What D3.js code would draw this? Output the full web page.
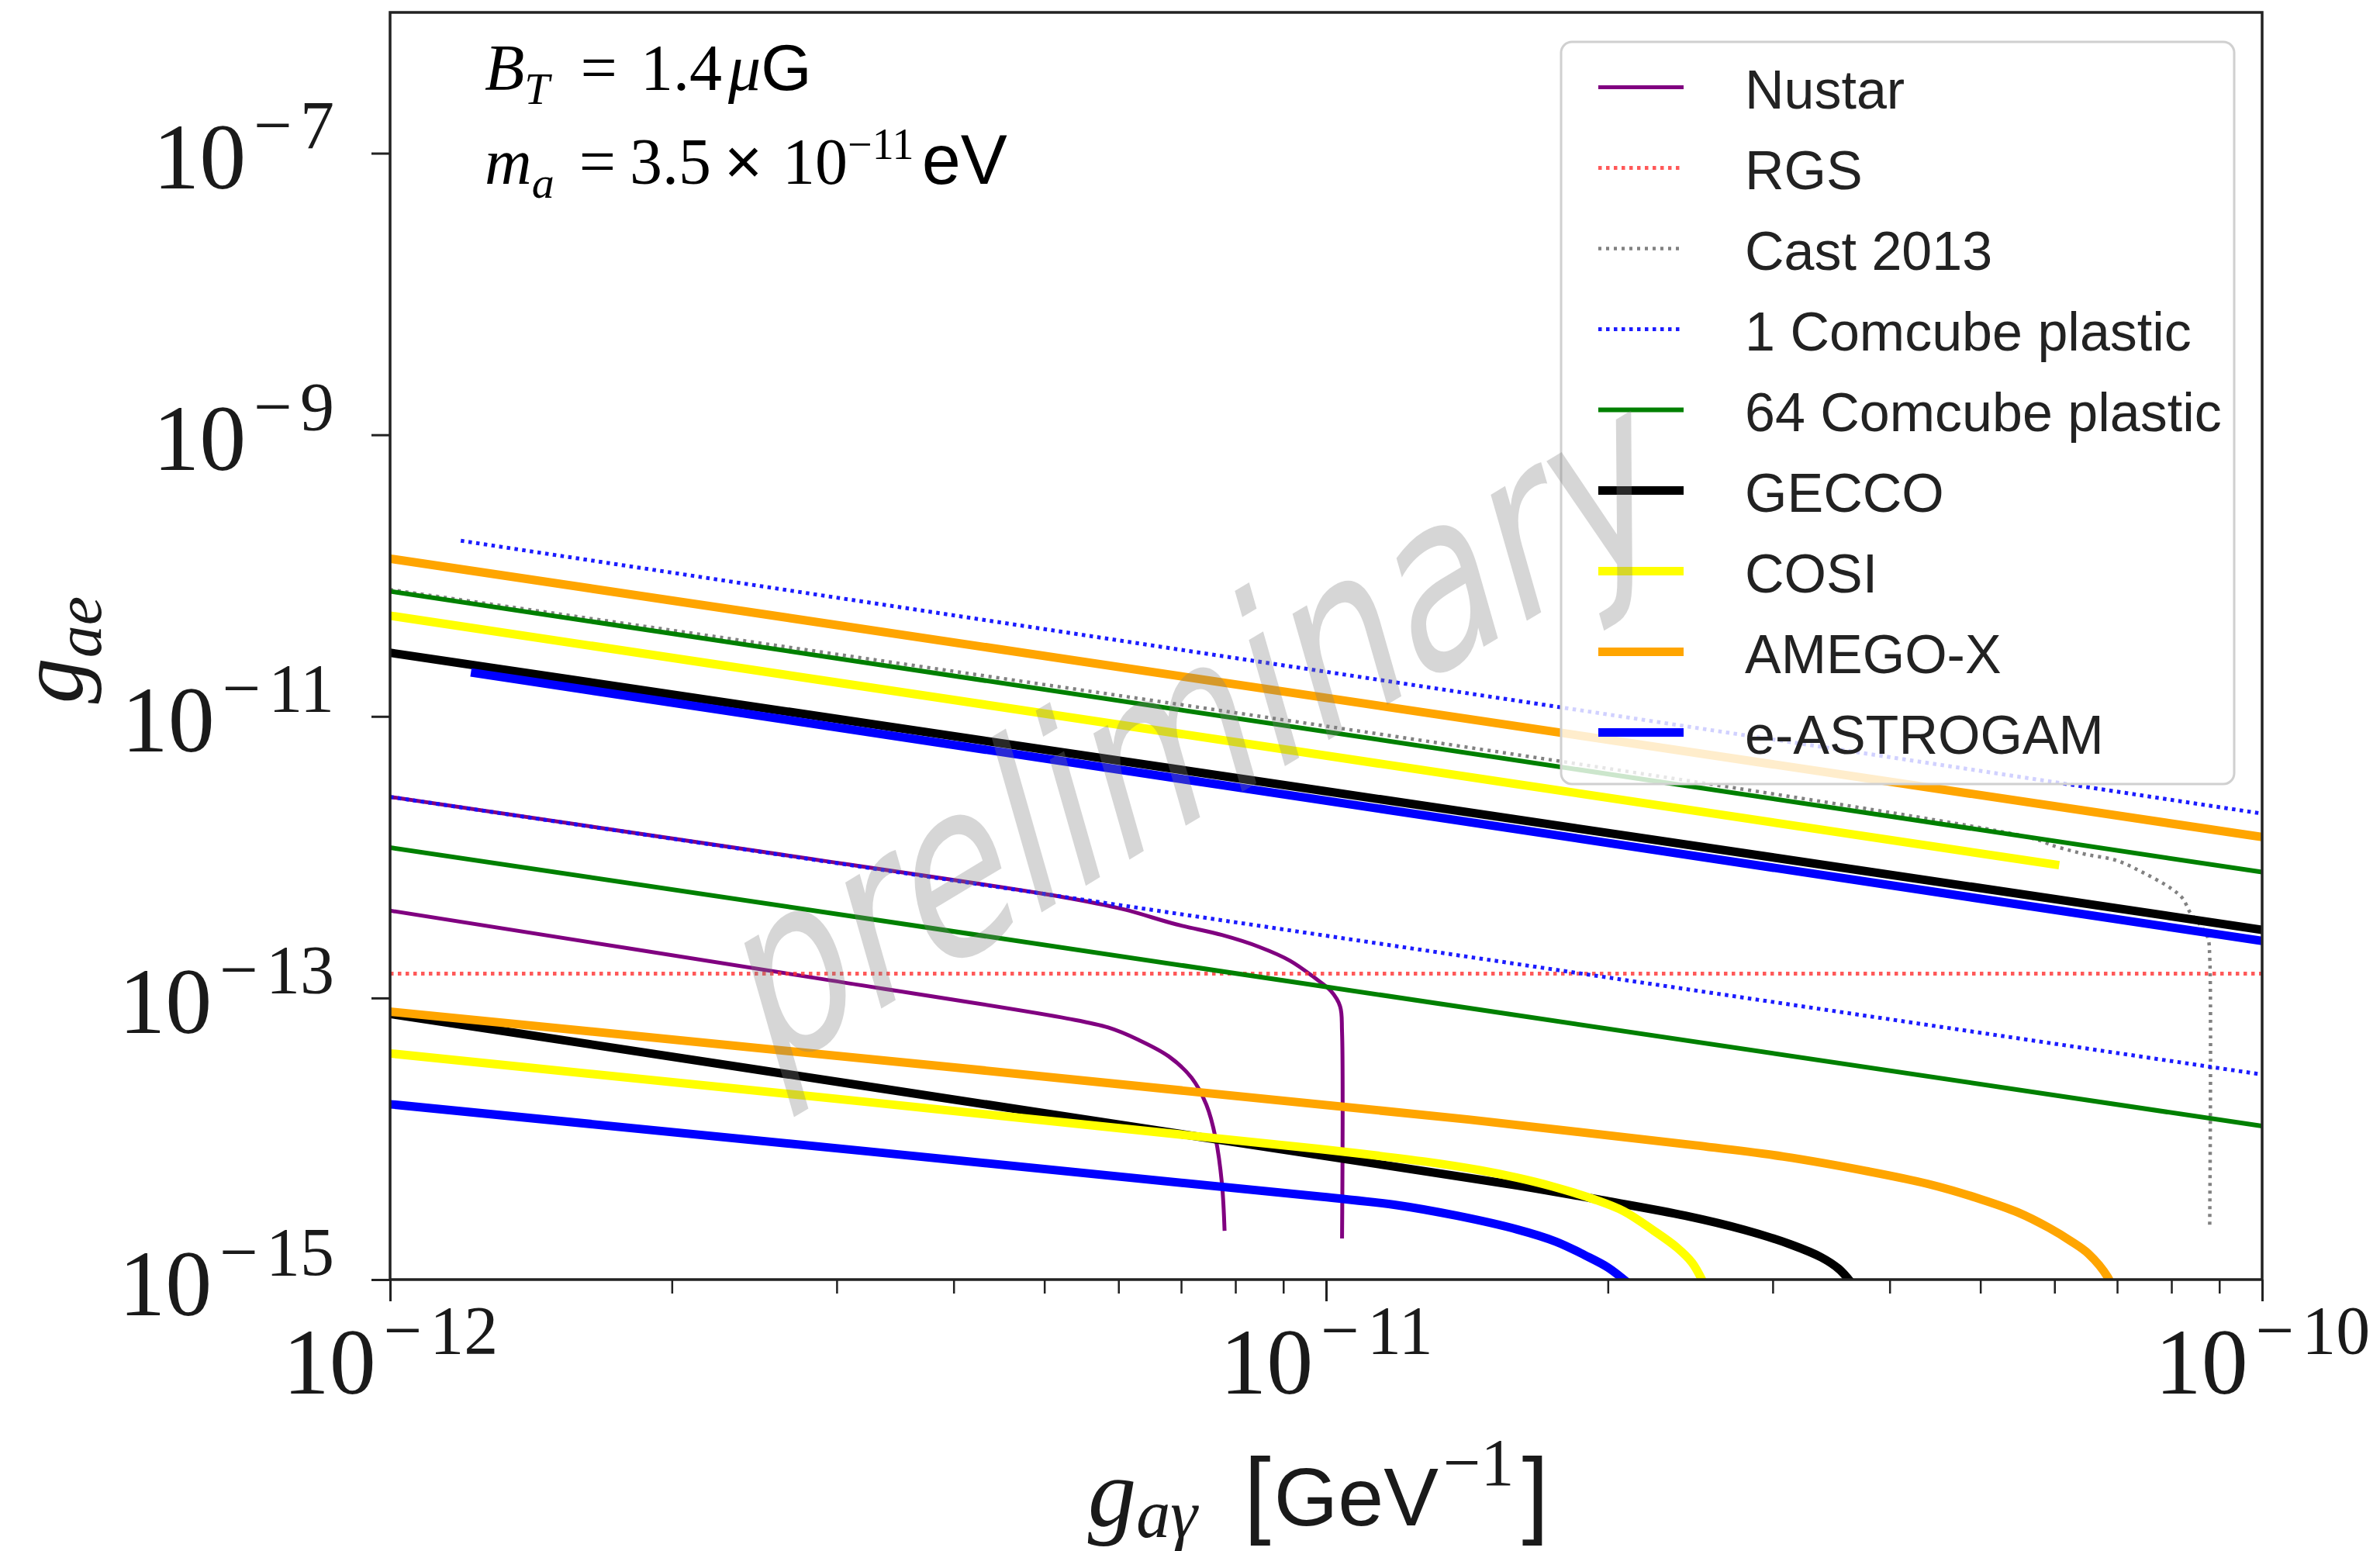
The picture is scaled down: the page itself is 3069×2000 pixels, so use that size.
<!DOCTYPE html>
<html>
<head>
<meta charset="utf-8">
<script src="https://cdn.jsdelivr.net/npm/d3@7"></script>
<style>body{margin:0;background:#fff;}</style>
</head>
<body>
<svg id="chart" width="3069" height="2000"></svg>
<script>
// ---------------- DATA (g_agamma [GeV^-1], g_ae) ----------------
const seriesNames = ["Nustar", "RGS", "Cast 2013", "1 Comcube plastic", "64 Comcube plastic", "GECCO", "COSI", "AMEGO-X", "e-ASTROGAM"];

const nustarHighGag = [1.0e-12, 2.48e-12, 5.23e-12, 6.07e-12, 6.92e-12, 7.74e-12, 8.49e-12, 9.15e-12, 9.71e-12, 1.012e-11, 1.035e-11, 1.04e-11, 1.04e-11];
const nustarHighGae = [2.68e-12, 1.10e-12, 5.21e-13, 4.27e-13, 3.33e-13, 2.80e-13, 2.30e-13, 1.84e-13, 1.40e-13, 1.12e-13, 8.72e-14, 5.72e-14, 1.96e-15];
const nustarLowGag = [1.0e-12, 2.90e-12, 5.29e-12, 5.85e-12, 6.30e-12, 6.79e-12, 7.18e-12, 7.45e-12, 7.62e-12, 7.74e-12, 7.79e-12];
const nustarLowGae = [4.17e-13, 1.36e-13, 7.15e-14, 6.17e-14, 5.05e-14, 3.85e-14, 2.72e-14, 1.74e-14, 1.01e-14, 4.79e-15, 2.22e-15];

const rgsGag = [1.0e-12, 1.0e-10];
const rgsGae = [1.49e-13, 1.49e-13];

const castGag = [1.0e-12, 5.59e-11, 6.05e-11, 6.47e-11, 6.98e-11, 7.46e-11, 7.98e-11, 8.22e-11, 8.38e-11, 8.60e-11, 8.75e-11, 8.79e-11, 8.79e-11];
const castGae = [7.95e-11, 1.40e-12, 1.18e-12, 1.05e-12, 9.51e-13, 7.78e-13, 6.04e-13, 5.12e-13, 4.03e-13, 3.25e-13, 2.67e-13, 1.98e-13, 2.39e-15];

const comcube1HighGag = [1.19e-12, 1.0e-10];
const comcube1HighGae = [1.77e-10, 2.04e-12];
const comcube1LowGag = [1.0e-12, 1.0e-10];
const comcube1LowGae = [2.68e-12, 2.86e-14];

const comcube64HighGag = [1.0e-12, 1.0e-10];
const comcube64HighGae = [7.73e-11, 7.83e-13];
const comcube64LowGag = [1.0e-12, 1.0e-10];
const comcube64LowGae = [1.17e-12, 1.23e-14];

const geccoHighGag = [1.0e-12, 1.0e-10];
const geccoHighGae = [2.83e-11, 3.05e-13];
const geccoLowGag = [1.0e-12, 9.82e-12, 1.60e-11, 2.00e-11, 2.42e-11, 2.80e-11, 3.14e-11, 3.38e-11, 3.53e-11, 3.64e-11];
const geccoLowGae = [7.71e-14, 7.67e-15, 4.67e-15, 3.60e-15, 2.84e-15, 2.25e-15, 1.77e-15, 1.44e-15, 1.19e-15, 9.5e-16];

const cosiHighGag = [1.0e-12, 6.07e-11];
const cosiHighGae = [5.19e-11, 8.77e-13];
const cosiLowGag = [1.0e-12, 9.82e-12, 1.28e-11, 1.46e-11, 1.60e-11, 1.74e-11, 1.93e-11, 2.08e-11, 2.24e-11, 2.37e-11, 2.46e-11, 2.53e-11];
const cosiLowGae = [4.04e-14, 8.47e-15, 6.86e-15, 5.98e-15, 5.29e-15, 4.61e-15, 3.73e-15, 3.06e-15, 2.22e-15, 1.69e-15, 1.32e-15, 9.5e-16];

const amegoHighGag = [1.0e-12, 1.0e-10];
const amegoHighGae = [1.32e-10, 1.39e-12];
const amegoLowGag = [1.0e-12, 1.42e-11, 2.48e-11, 3.08e-11, 3.78e-11, 4.39e-11, 5.00e-11, 5.49e-11, 5.92e-11, 6.26e-11, 6.52e-11, 6.84e-11, 6.95e-11];
const amegoLowGae = [8.0e-14, 1.37e-14, 8.99e-15, 7.48e-15, 5.90e-15, 4.79e-15, 3.73e-15, 2.99e-15, 2.33e-15, 1.86e-15, 1.53e-15, 1.04e-15, 8.0e-16];

const eastroHighGag = [1.22e-12, 1.0e-10];
const eastroHighGae = [2.05e-11, 2.54e-13];
const eastroLowGag = [1.0e-12, 9.86e-12, 1.19e-11, 1.38e-11, 1.60e-11, 1.76e-11, 1.89e-11, 2.00e-11, 2.10e-11];
const eastroLowGae = [1.76e-14, 3.88e-15, 3.38e-15, 2.84e-15, 2.27e-15, 1.86e-15, 1.49e-15, 1.22e-15, 9.5e-16];

const xMajorTicks = [1e-12, 1e-11, 1e-10];
const xTickExponents = ["12", "11", "10"];
const yMajorTicks = [1e-15, 1e-13, 1e-11, 1e-9, 1e-7];
const yTickExponents = ["15", "13", "11", "9", "7"];
const xMinorMantissas = [2, 3, 4, 5, 6, 7, 8, 9];
const xMinorDecades = [1e-12, 1e-11];

// ---------------- LAYOUT ----------------
const W = 3069, H = 2000;
const L = 503, R = 2917, T = 16, B = 1650;
const serif = "'Liberation Serif', 'Times New Roman', serif";
const sans = "'Liberation Sans', Arial, sans-serif";

const x = d3.scaleLog().domain([1e-12, 1e-10]).range([L, R]);
const y = d3.scaleLog().domain([1e-15, 1e-6]).range([B, T]);

const svg = d3.select("#chart");
svg.append("rect").attr("width", W).attr("height", H).attr("fill", "#fff");
svg.append("defs").append("clipPath").attr("id", "plotClip")
  .append("rect").attr("x", L).attr("y", T).attr("width", R - L).attr("height", B - T);

const zip = (a, b) => a.map((v, i) => [v, b[i]]);

const series = [
  {name: seriesNames[0], color: "#800080", width: 5, dash: null, opacity: 1,
   curves: [zip(nustarHighGag, nustarHighGae), zip(nustarLowGag, nustarLowGae)]},
  {name: seriesNames[1], color: "#ff3030", width: 5, dash: "4.5 5.5", opacity: 0.8,
   curves: [zip(rgsGag, rgsGae)]},
  {name: seriesNames[2], color: "#7a7a7a", width: 4.5, dash: "4 6", opacity: 0.95,
   curves: [zip(castGag, castGae)]},
  {name: seriesNames[3], color: "#1010ff", width: 5, dash: "4.5 5.5", opacity: 0.95,
   curves: [zip(comcube1HighGag, comcube1HighGae), zip(comcube1LowGag, comcube1LowGae)]},
  {name: seriesNames[4], color: "#008000", width: 6, dash: null, opacity: 1,
   curves: [zip(comcube64HighGag, comcube64HighGae), zip(comcube64LowGag, comcube64LowGae)]},
  {name: seriesNames[5], color: "#000000", width: 11, dash: null, opacity: 1,
   curves: [zip(geccoHighGag, geccoHighGae), zip(geccoLowGag, geccoLowGae)]},
  {name: seriesNames[6], color: "#ffff00", width: 11, dash: null, opacity: 1,
   curves: [zip(cosiHighGag, cosiHighGae), zip(cosiLowGag, cosiLowGae)]},
  {name: seriesNames[7], color: "#ffa500", width: 11, dash: null, opacity: 1,
   curves: [zip(amegoHighGag, amegoHighGae), zip(amegoLowGag, amegoLowGae)]},
  {name: seriesNames[8], color: "#0000ff", width: 11, dash: null, opacity: 1,
   curves: [zip(eastroHighGag, eastroHighGae), zip(eastroLowGag, eastroLowGae)]}
];

const line = d3.line().x(d => x(d[0])).y(d => y(d[1])).curve(d3.curveCatmullRom.alpha(0.5));

const plot = svg.append("g").attr("clip-path", "url(#plotClip)");
series.forEach(s => {
  s.curves.forEach(c => {
    plot.append("path").attr("d", line(c)).attr("fill", "none")
      .attr("stroke", s.color).attr("stroke-width", s.width)
      .attr("stroke-opacity", s.opacity)
      .attr("stroke-dasharray", s.dash).attr("stroke-linejoin", "round");
  });
});

// ---------------- AXES ----------------
const gx = svg.append("g").attr("transform", `translate(0,${B})`)
  .call(d3.axisBottom(x).tickValues(xMajorTicks).tickSize(28).tickSizeOuter(0).tickFormat(() => ""));
gx.select(".domain").remove();
gx.selectAll(".tick line").attr("stroke", "#222").attr("stroke-width", 3);
gx.selectAll(".tick text").remove();
gx.selectAll(".tick").each(function(d, i) {
  const t = d3.select(this).append("text").attr("y", 147).attr("text-anchor", "middle")
    .attr("font-family", serif).attr("fill", "#1a1a1a");
  t.append("tspan").attr("font-size", 120).text("10");
  t.append("tspan").attr("font-size", 88).attr("dx", 10).attr("dy", -52).text("\u2212");
  t.append("tspan").attr("font-size", 88).attr("dx", 10).text(xTickExponents[i]);
});

const minorVals = [];
xMinorDecades.forEach(dec => xMinorMantissas.forEach(m => minorVals.push(m * dec)));
const gxm = svg.append("g").attr("transform", `translate(0,${B})`)
  .call(d3.axisBottom(x).tickValues(minorVals).tickSize(18).tickSizeOuter(0).tickFormat(() => ""));
gxm.select(".domain").remove();
gxm.selectAll(".tick line").attr("stroke", "#222").attr("stroke-width", 2.5);
gxm.selectAll(".tick text").remove();

const gy = svg.append("g").attr("transform", `translate(${L},0)`)
  .call(d3.axisLeft(y).tickValues(yMajorTicks).tickSize(24).tickSizeOuter(0).tickFormat(() => ""));
gy.select(".domain").remove();
gy.selectAll(".tick line").attr("stroke", "#222").attr("stroke-width", 3);
gy.selectAll(".tick text").remove();
gy.selectAll(".tick").each(function(d, i) {
  const t = d3.select(this).append("text").attr("x", -72).attr("y", 45).attr("text-anchor", "end")
    .attr("font-family", serif).attr("fill", "#1a1a1a");
  t.append("tspan").attr("font-size", 120).text("10");
  t.append("tspan").attr("font-size", 88).attr("dx", 10).attr("dy", -52).text("\u2212");
  t.append("tspan").attr("font-size", 88).attr("dx", 10).text(yTickExponents[i]);
});

// frame
svg.append("rect").attr("x", L).attr("y", T).attr("width", R - L).attr("height", B - T)
  .attr("fill", "none").attr("stroke", "#222").attr("stroke-width", 3.5);

// axis labels
const xl = svg.append("text").attr("x", 1700).attr("y", 1967).attr("text-anchor", "middle").attr("fill", "#1a1a1a");
xl.append("tspan").attr("font-family", serif).attr("font-style", "italic").attr("font-size", 125).text("g");
xl.append("tspan").attr("font-family", serif).attr("font-style", "italic").attr("font-size", 88).attr("dy", 15).text("a\u03b3");
xl.append("tspan").attr("font-family", sans).attr("font-size", 125).attr("dx", 60).attr("dy", -15).text("[");
xl.append("tspan").attr("font-family", sans).attr("font-size", 106).attr("dx", 4).text("GeV");
xl.append("tspan").attr("font-family", serif).attr("font-size", 86).attr("dx", 6).attr("dy", -52).text("\u22121");
xl.append("tspan").attr("font-family", sans).attr("font-size", 125).attr("dx", 10).attr("dy", 52).text("]");

const yl = svg.append("text").attr("transform", "translate(106,838) rotate(-90)")
  .attr("text-anchor", "middle").attr("fill", "#1a1a1a").attr("font-family", serif).attr("font-style", "italic");
yl.append("tspan").attr("font-size", 118).text("g");
yl.append("tspan").attr("font-size", 84).attr("dy", 24).text("ae");

// annotations
const a1 = svg.append("text").attr("x", 625).attr("y", 116).attr("font-family", serif).attr("font-size", 84).attr("fill", "#000");
a1.append("tspan").attr("font-style", "italic").text("B");
a1.append("tspan").attr("font-style", "italic").attr("font-size", 58).attr("dy", 18).text("T");
a1.append("tspan").attr("dy", -18).attr("dx", 40).text("=");
a1.append("tspan").attr("dx", 30).text("1.4");
a1.append("tspan").attr("font-style", "italic").attr("dx", 8).text("\u03bc");
a1.append("tspan").attr("font-family", sans).text("G");

const a2 = svg.append("text").attr("x", 625).attr("y", 237).attr("font-family", serif).attr("font-size", 84).attr("fill", "#000");
a2.append("tspan").attr("font-style", "italic").text("m");
a2.append("tspan").attr("font-style", "italic").attr("font-size", 58).attr("dy", 18).text("a");
a2.append("tspan").attr("dy", -18).attr("dx", 32).text("=");
a2.append("tspan").attr("dx", 18).text("3.5");
a2.append("tspan").attr("font-family", sans).attr("dx", 17).text("\u00d7");
a2.append("tspan").attr("dx", 26).text("10");
a2.append("tspan").attr("font-size", 56).attr("dy", -32).text("\u221211");
a2.append("tspan").attr("font-family", sans).attr("font-size", 90).attr("dy", 32).attr("dx", 10).text("eV");

// legend
const lg = svg.append("g");
lg.append("rect").attr("x", 2013).attr("y", 54).attr("width", 868).attr("height", 957).attr("rx", 14)
  .attr("fill", "#fff").attr("fill-opacity", 0.8).attr("stroke", "#d0d0d0").attr("stroke-width", 3);
series.forEach((s, i) => {
  const yy = 112.5 + i * 104;
  lg.append("line").attr("x1", 2061).attr("x2", 2171).attr("y1", yy).attr("y2", yy)
    .attr("stroke", s.color).attr("stroke-width", s.width).attr("stroke-opacity", s.opacity)
    .attr("stroke-dasharray", s.dash);
  lg.append("text").attr("x", 2250).attr("y", yy + 27).attr("font-family", sans).attr("font-size", 70)
    .attr("fill", "#222").text(s.name);
});

// watermark
svg.append("text").attr("transform", "translate(1542,935) scale(1,1.45) rotate(-22.5)")
  .attr("text-anchor", "middle").attr("dy", "0.35em")
  .attr("font-family", "'DejaVu Sans', sans-serif").attr("font-size", 222)
  .attr("fill", "#808080").attr("fill-opacity", 0.32).text("preliminary");
</script>
</body>
</html>
